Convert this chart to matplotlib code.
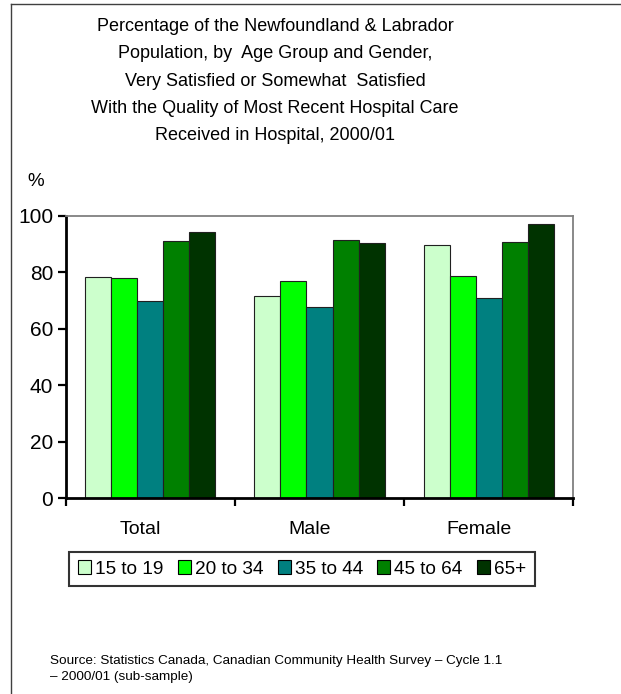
import numpy as np
import matplotlib
matplotlib.use("Agg")
import matplotlib.pyplot as plt
from matplotlib.patches import Patch
from matplotlib.lines import Line2D
import matplotlib.transforms as mtransforms

plt.rcParams['font.family'] = ['Liberation Sans', 'DejaVu Sans']

# data
groups = ["Total", "Male", "Female"]
age_groups = ["15 to 19", "20 to 34", "35 to 44", "45 to 64", "65+"]
v_15_19 = [78.4, 71.5, 89.7]
v_20_34 = [77.8, 77.0, 78.7]
v_35_44 = [69.8, 67.6, 70.8]
v_45_64 = [91.0, 91.3, 90.7]
v_65 = [94.1, 90.4, 97.1]
series = [v_15_19, v_20_34, v_35_44, v_45_64, v_65]
colors = ["#CCFFCC", "#00FF00", "#008080", "#008000", "#003300"]
yticks = [0, 20, 40, 60, 80, 100]

title = ("Percentage of the Newfoundland & Labrador\n"
         "Population, by  Age Group and Gender,\n"
         "Very Satisfied or Somewhat  Satisfied\n"
         "With the Quality of Most Recent Hospital Care\n"
         "Received in Hospital, 2000/01")
source = ("Source: Statistics Canada, Canadian Community Health Survey \u2013 Cycle 1.1\n"
          "\u2013 2000/01 (sub-sample)")

W, H = 621, 694
fig = plt.figure(figsize=(W / 100, H / 100), dpi=100)
ax = fig.add_axes([65.7 / W, 1 - 498.3 / H, (573.3 - 65.7) / W, (498.3 - 215.7) / H])

bw = 0.154
centers = np.arange(len(groups)) + 0.5
for j, (vals, col) in enumerate(zip(series, colors)):
    ax.bar(centers + (j - 2) * bw, vals, width=bw, color=col,
           edgecolor="#202020", linewidth=0.8, label=age_groups[j])

ax.set_xlim(0, 3)
ax.set_ylim(0, 100)
ax.set_yticks(yticks)
ax.set_yticklabels([str(t) for t in yticks], fontsize=15)
ax.set_xticks([0, 1, 2, 3])
ax.set_xticklabels([])
ax.tick_params(axis="both", direction="out", length=6, width=1.6, color="black")
ax.tick_params(axis="y", pad=3)
ax.spines["left"].set_linewidth(2)
ax.spines["bottom"].set_linewidth(2)
ax.spines["top"].set_color("#808080")
ax.spines["right"].set_color("#808080")
ax.spines["top"].set_linewidth(1.3)
ax.spines["right"].set_linewidth(1.3)

# category labels (sit a bit left of the group centres)
off = mtransforms.ScaledTranslation(-0.1, 0, fig.dpi_scale_trans)
for c, g in zip(centers, groups):
    ax.text(c, 1 - (529 - 215.7) / (498.3 - 215.7), g,
            transform=mtransforms.blended_transform_factory(ax.transData, ax.transAxes) + off,
            ha="center", va="center", fontsize=14)

fig.text(275 / W, 1 - 81 / H, title, ha="center", va="center",
         fontsize=13, linespacing=1.78)
fig.text(27 / W, 1 - 181 / H, "%", ha="left", va="center", fontsize=13.5)

handles = [Patch(facecolor=c, edgecolor="black", linewidth=0.8) for c in colors]
leg = fig.legend(handles, age_groups, loc="center", bbox_to_anchor=(302 / W, 1 - 569 / H),
                 ncol=5, fontsize=13.7, frameon=True, fancybox=False,
                 handlelength=0.7, handleheight=0.7, handletextpad=0.2,
                 columnspacing=0.75, borderpad=0.45, borderaxespad=0)
leg.get_frame().set_edgecolor("black")
leg.get_frame().set_linewidth(1.5)

fig.text(50 / W, 1 - 669 / H, source, ha="left", va="center", fontsize=9.7, linespacing=1.4)

# outer frame lines (top and left)
fig.add_artist(Line2D([11 / W, 1], [1 - 4 / H, 1 - 4 / H], color="#404040", linewidth=1))
fig.add_artist(Line2D([11 / W, 11 / W], [0, 1 - 4 / H], color="#404040", linewidth=1))

fig.savefig("out.png", dpi=100)
